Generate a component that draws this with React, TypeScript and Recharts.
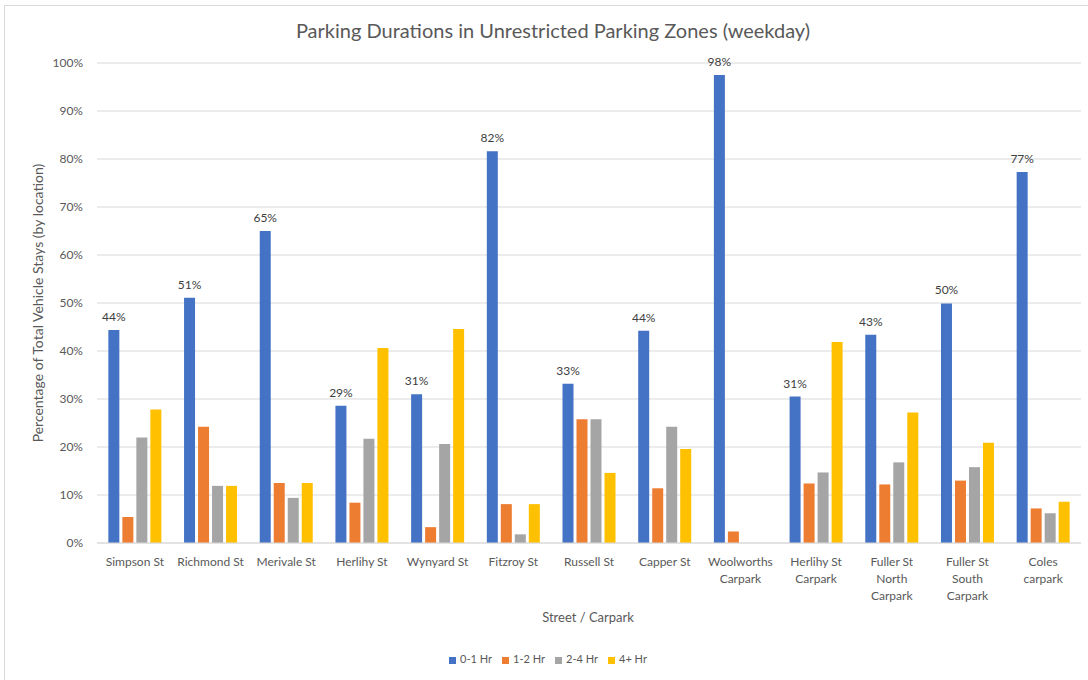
import { BarChart, Bar, XAxis, YAxis, CartesianGrid, Legend, LabelList } from "recharts";

const locations = [
  "Simpson St", "Richmond St", "Merivale St", "Herlihy St", "Wynyard St", "Fitzroy St",
  "Russell St", "Capper St", "Woolworths Carpark", "Herlihy St Carpark",
  "Fuller St North Carpark", "Fuller St South Carpark", "Coles carpark",
];
const hr01 = [44.4, 51.1, 65.0, 28.6, 31.0, 81.6, 33.2, 44.2, 97.5, 30.5, 43.4, 49.9, 77.3];
const hr12 = [5.4, 24.2, 12.5, 8.4, 3.3, 8.1, 25.8, 11.4, 2.4, 12.4, 12.2, 13.0, 7.2];
const hr24 = [22.0, 11.9, 9.4, 21.7, 20.6, 1.8, 25.8, 24.2, 0, 14.7, 16.8, 15.8, 6.2];
const hr4p = [27.8, 11.9, 12.5, 40.6, 44.6, 8.1, 14.6, 19.6, 0, 41.9, 27.2, 20.9, 8.6];
const yTicks = [0, 10, 20, 30, 40, 50, 60, 70, 80, 90, 100];

const data = locations.map((name, i) => ({
  name, h01: hr01[i], h12: hr12[i], h24: hr24[i], h4p: hr4p[i],
}));

const FONT = "Lato, 'Open Sans', sans-serif";
const GREY = "#595959";

// word wrap the long category names roughly like Excel does
function wrap(s: string, max = 70) {
  const words = s.split(" ");
  const lines: string[] = [];
  let cur = "";
  for (const w of words) {
    const t = cur ? cur + " " + w : w;
    if (t.length * 6 > max && cur) { lines.push(cur); cur = w; } else cur = t;
  }
  if (cur) lines.push(cur);
  return lines;
}

const XTick = (p: any) => {
  const lines = wrap(p.payload.value);
  return (
    <text x={p.x} y={p.y + 15} textAnchor="middle" fill={GREY} fontSize={12} fontFamily={FONT}>
      {lines.map((l, i) => <tspan key={i} x={p.x} dy={i === 0 ? 0 : 17}>{l}</tspan>)}
    </text>
  );
};

export default function App() {
  return (
    <div style={{ position: "absolute", left: 0, top: 0, width: 1088, height: 680, background: "#fff", fontFamily: FONT, overflow: "hidden" }}>
      <div style={{ position: "absolute", left: 4, top: 5, width: 1100, height: 700, border: "1px solid #d9d9d9" }} />
      <div style={{ position: "absolute", left: 0, top: 18, width: 1106, textAlign: "center", fontSize: 20, color: GREY }}>
        Parking Durations in Unrestricted Parking Zones (weekday)
      </div>
      <div style={{ position: "absolute", left: 37, top: 303, transform: "translate(-50%,-50%) rotate(-90deg)", whiteSpace: "nowrap", fontSize: 14, color: GREY }}>
        Percentage of Total Vehicle Stays (by location)
      </div>
      <div style={{ position: "absolute", left: 0, top: 609, width: 1176, textAlign: "center", fontSize: 13, color: GREY }}>
        Street / Carpark
      </div>
      <BarChart width={1088} height={680} data={data} margin={{ top: 63, right: 7, left: 0, bottom: 64 }}
        barCategoryGap="15%" barGap={3} style={{ position: "absolute", left: 0, top: 0 }}>
        <CartesianGrid vertical={false} stroke="#d9d9d9" />
        <XAxis dataKey="name" interval={0} height={60} tick={<XTick />} tickLine={false} axisLine={{ stroke: "#d9d9d9" }} />
        <YAxis width={97} domain={[0, 100]} ticks={yTicks} tickFormatter={(v) => v + "%"} tickLine={false} axisLine={false}
          tickSize={0} tickMargin={14} tick={{ fill: GREY, fontSize: 12, fontFamily: FONT }} />
        <Legend iconType="square" iconSize={7}
          wrapperStyle={{ position: "absolute", top: 652, left: 0, width: 1106, fontSize: 11, fontFamily: FONT, color: GREY }}
          formatter={(v) => <span style={{ color: GREY }}>{v}</span>} />
        <Bar dataKey="h01" name="0-1 Hr" fill="#4472C4" isAnimationActive={false}>
          <LabelList dataKey="h01" position="top" offset={9} formatter={(v: any) => Math.round(v) + "%"}
            style={{ fill: "#404040", fontSize: 12, fontFamily: FONT }} />
        </Bar>
        <Bar dataKey="h12" name="1-2 Hr" fill="#ED7D31" isAnimationActive={false} />
        <Bar dataKey="h24" name="2-4 Hr" fill="#A5A5A5" isAnimationActive={false} />
        <Bar dataKey="h4p" name="4+ Hr" fill="#FFC000" isAnimationActive={false} />
      </BarChart>
    </div>
  );
}
